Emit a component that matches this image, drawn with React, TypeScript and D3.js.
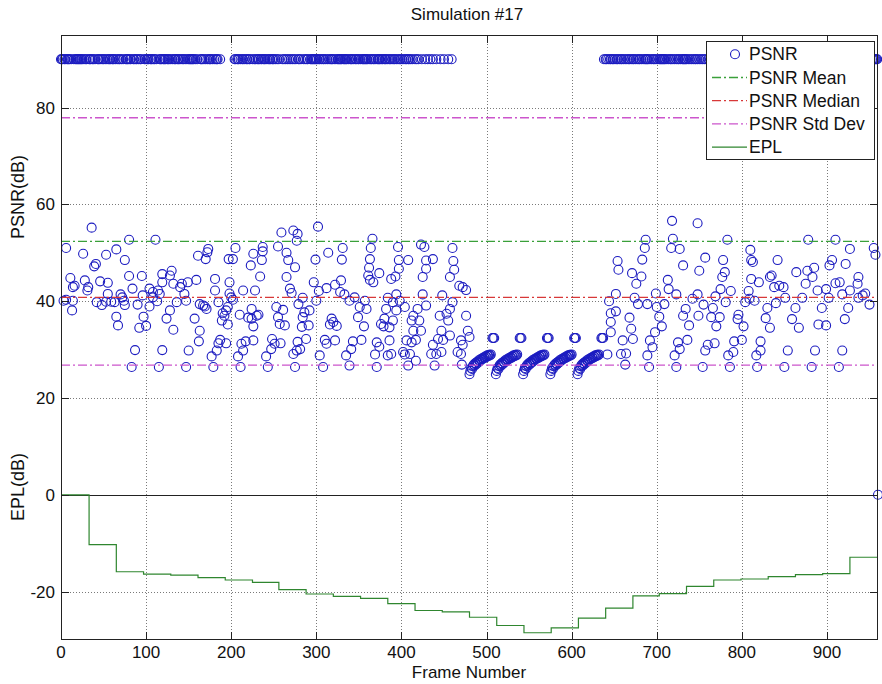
import React from 'react';
import * as d3 from 'd3';

// Frame axis and dB axis
const frameDomain = [0, 960];
const dbDomain = [-30, 95];
const frameTicks = [0, 100, 200, 300, 400, 500, 600, 700, 800, 900];
const dbTicks = [-20, 0, 20, 40, 60, 80];

// Summary statistics of the PSNR series
const psnrMean = 52.35;
const psnrMedian = 40.8;
const psnrStd = 25.55;

// Error-propagation loss, piecewise constant per GOP
const eplStepFrames = [0, 33, 65, 97, 129, 161, 193, 225, 256, 288, 320, 352, 384, 416, 448, 480, 512, 544, 576, 608, 640, 672, 703, 735, 767, 799, 831, 863, 895, 927];
const eplValues = [0, -10.3, -15.9, -16.4, -16.6, -17.1, -17.6, -18.1, -19.6, -20.5, -21.0, -21.4, -22.5, -23.9, -24.2, -25.3, -27.0, -28.5, -27.5, -25.5, -23.4, -20.9, -20.4, -18.9, -17.6, -17.4, -16.9, -16.5, -16.3, -12.9];
const lastFrame = 960;

// Frames whose PSNR is unbounded (identical frames), shown clipped at 90 dB
const saturatedPsnr = 90;
const saturatedFrames = [
  0, 1, 2, 4, 5, 7, 8, 9, 10, 12, 15, 17, 18, 19, 20, 21, 22, 23, 24, 25, 27, 29, 30, 33, 34, 35, 37, 38, 40, 43, 44, 45,
  47, 49, 50, 52, 54, 56, 57, 58, 60, 61, 62, 64, 66, 68, 69, 71, 73, 76, 77, 78, 79, 81, 82, 85, 86, 88, 89, 91, 93, 94,
  98, 99, 101, 102, 103, 105, 106, 107, 109, 110, 112, 116, 117, 118, 120, 121, 122, 123, 125, 126, 127, 129, 131, 133,
  134, 135, 137, 138, 139, 141, 143, 144, 146, 148, 150, 151, 152, 153, 154, 155, 156, 158, 160, 164, 165, 166, 168, 170,
  172, 174, 175, 176, 178, 180, 182, 183, 184, 187,
  204, 205, 207, 208, 209, 211, 213, 214, 216, 218, 219, 221, 222, 225, 227, 229, 231, 232, 233, 235, 236, 238, 239, 240,
  242, 244, 245, 246, 248, 249, 250, 252, 254, 256, 260, 262, 264, 266, 268, 270, 272, 274, 276, 279, 280, 282, 285, 287,
  289, 290, 293, 294, 295, 296, 297, 298, 299, 300, 301, 303, 304, 306, 308, 309, 311, 313, 315, 317, 318, 319, 321, 323,
  325, 326, 327, 328, 329, 330, 332, 333, 334, 335, 336, 338, 340, 341, 342, 344, 346, 347, 349, 350, 352, 354, 355, 356,
  357, 358, 359, 360, 362, 364, 365, 367, 368, 370, 372, 373, 374, 375, 377, 378, 380, 381, 382, 384, 386, 387, 389, 391,
  392, 394, 396, 398, 399, 401, 403, 405, 406, 408, 409, 411, 413, 416, 418, 420, 424, 428, 431, 434, 437, 441, 446, 450,
  455, 459,
  638, 640, 641, 643, 645, 646, 648, 649, 651, 653, 654, 656, 658, 659, 661, 663, 665, 667, 668, 670, 672, 673, 675, 677,
  679, 680, 682, 684, 686, 687, 688, 689, 690, 692, 694, 696, 697, 699, 701, 703, 704, 705, 706, 707, 708, 709, 710, 712,
  714, 716, 717, 719, 721, 723, 725, 726, 728, 730, 731, 732, 733, 734, 735, 737, 739, 741, 743, 745, 746, 748, 750, 752,
  754, 756, 758, 761, 763, 766, 771, 773, 777, 780, 785, 788, 791, 796, 799, 803, 806, 811, 814, 818, 821, 826, 829, 833,
  836, 841, 844, 848, 851, 856, 859, 863, 866, 871, 874, 878, 881, 886, 889, 893, 896, 901, 904, 908, 911, 916, 919, 923,
  926, 931, 934, 938, 941, 945, 949, 951, 953, 954, 955, 956, 957, 958, 959
];

// Low-quality GOPs in the middle of the sequence: ramp start frames and per-frame PSNR along the ramp
const gopRampStarts = [480, 511, 543, 575, 607];
const gopRampPsnr = [24.9, 25.6, 26.2, 26.0, 26.6, 26.9, 26.7, 27.2, 27.0, 27.5, 27.3, 27.8, 27.6, 28.0, 27.9, 28.2, 28.1, 28.4, 28.3, 28.6, 28.5, 28.8, 28.7, 28.9, 28.8, 29.0];
const gopKeyFrames = [507, 508, 509, 539, 540, 541, 571, 572, 573, 603, 604, 605, 635, 636, 637];
const gopKeyPsnr = 32.4;

// Remaining per-frame PSNR samples [frame, dB]
const psnrScatter = [
  [36, 55.2], [6, 51.0], [26, 49.8], [41, 47.7], [39, 47.2], [53, 49.6], [65, 50.7], [75, 48.5], [80, 52.7], [111, 52.7],
  [11, 44.8], [16, 43.2], [14, 42.9], [28, 44.3], [32, 42.9], [31, 42.2], [46, 44.1], [55, 43.8], [3, 40.1], [6, 40.3],
  [14, 40.1], [13, 38.1], [42, 39.8], [48, 39.2], [53, 39.9], [59, 39.9], [63, 39.8], [55, 41.5], [70, 41.4], [72, 40.8],
  [74, 40.1], [75, 39.2], [65, 36.8], [67, 35.0], [80, 45.2], [84, 42.6], [95, 45.2], [96, 41.2], [92, 34.5], [97, 36.8],
  [100, 34.9], [87, 29.9], [83, 26.4], [90, 39.3], [104, 38.9], [104, 42.6], [108, 40.8], [108, 41.9], [114, 42.2], [119, 45.6],
  [116, 41.5], [113, 40.0], [119, 43.9], [130, 46.3], [128, 45.3], [132, 43.6], [136, 39.8], [124, 36.4], [128, 38.1], [132, 34.1],
  [119, 29.9], [115, 26.4], [140, 42.9], [142, 43.6], [145, 41.5], [147, 40.1], [149, 43.9], [157, 36.4], [159, 44.4], [161, 49.4],
  [170, 48.7], [172, 50.1], [173, 50.8], [163, 33.9], [162, 31.7], [147, 26.4], [150, 29.8], [163, 39.4], [167, 39.1], [169, 38.9],
  [171, 38.4], [179, 26.4], [177, 28.6], [181, 44.6], [181, 42.2], [185, 39.8], [187, 32.0], [183, 29.8], [185, 31.3], [190, 37.5],
  [189, 36.0], [194, 38.1], [192, 37.0], [198, 43.9], [198, 41.6], [200, 40.8], [196, 38.8], [202, 40.3], [196, 35.2], [194, 31.3],
  [205, 51.0], [197, 48.7], [202, 48.7], [211, 26.4], [208, 28.6], [214, 29.8], [212, 31.2], [217, 31.7], [210, 37.2], [214, 42.2],
  [223, 47.4], [226, 49.8], [228, 42.2], [224, 38.4], [224, 36.4], [220, 36.6], [226, 34.8], [230, 37.0], [232, 37.2], [234, 45.1],
  [236, 48.5], [237, 50.3], [237, 51.2], [226, 31.9], [241, 28.6], [243, 26.4], [247, 30.1], [251, 31.2], [248, 32.2], [258, 31.3],
  [253, 38.8], [255, 36.7], [257, 35.3], [261, 38.2], [263, 35.0], [259, 54.2], [255, 51.3], [265, 50.0], [267, 48.5], [265, 45.0],
  [269, 42.6], [271, 41.7], [273, 54.6], [275, 47.0], [277, 52.5], [278, 53.9], [273, 29.1], [275, 26.4], [277, 29.8], [278, 31.6],
  [302, 55.4], [314, 50.0], [299, 48.6], [331, 51.0], [330, 48.6], [297, 43.9], [303, 42.1], [312, 42.7], [322, 43.4], [329, 44.3],
  [328, 41.9], [333, 41.4], [284, 40.7], [300, 40.1], [292, 38.1], [286, 37.7], [284, 36.7], [283, 34.7], [291, 35.0], [318, 36.4],
  [320, 35.7], [316, 35.2], [324, 34.9], [345, 40.8], [339, 40.1], [351, 38.8], [349, 36.7], [356, 34.8], [359, 38.4], [357, 40.1],
  [366, 52.9], [364, 51.0], [363, 48.7], [362, 46.9], [361, 45.3], [363, 44.4], [367, 43.9], [374, 45.8], [388, 44.6], [393, 45.1],
  [397, 48.5], [397, 46.7], [396, 51.2], [408, 48.5], [394, 41.4], [384, 40.7], [390, 39.8], [382, 38.4], [380, 36.4], [379, 34.8],
  [390, 36.0], [394, 38.1], [423, 51.7], [427, 51.2], [429, 48.4], [437, 48.7], [429, 46.7], [425, 45.0], [425, 41.4], [429, 39.1],
  [419, 38.4], [414, 37.0], [421, 36.0], [423, 33.9], [414, 33.9], [460, 51.0], [461, 48.3], [462, 46.5], [457, 45.0], [468, 43.2],
  [472, 42.9], [476, 42.3], [448, 41.2], [460, 39.8], [457, 38.4], [453, 37.4], [445, 37.0], [455, 36.0], [476, 37.0], [478, 33.9],
  [447, 33.9], [443, 32.2], [449, 32.0], [457, 32.9], [480, 32.6], [470, 31.9], [472, 31.0], [466, 29.5], [470, 29.1], [471, 26.9],
  [439, 26.7], [435, 29.1], [441, 29.1], [447, 29.5], [437, 31.0], [417, 32.0], [412, 31.5], [406, 31.9], [402, 29.5], [404, 29.0],
  [410, 29.1], [417, 27.7], [408, 26.7], [386, 31.9], [388, 29.1], [384, 28.8], [371, 31.5], [374, 30.6], [369, 29.0], [371, 26.4],
  [353, 32.0], [343, 31.7], [341, 30.1], [335, 28.8], [339, 26.7], [310, 32.0], [322, 31.9], [312, 31.2], [304, 28.8], [308, 26.4],
  [288, 32.2], [281, 30.1], [376, 35.3], [386, 34.6], [404, 38.8], [398, 40.1], [412, 36.0], [279, 39.4],
  [687, 52.7], [686, 51.0], [683, 48.6], [654, 48.3], [655, 46.5], [671, 45.8], [682, 45.1], [676, 43.6], [719, 52.9], [717, 51.0],
  [727, 50.8], [718, 56.6], [748, 56.1], [731, 47.4], [750, 46.3], [757, 49.0], [778, 48.5], [783, 52.7], [780, 46.0], [777, 45.0],
  [775, 42.5], [787, 42.1], [810, 50.6], [811, 48.5], [813, 48.1], [811, 44.6], [820, 43.9], [842, 48.5], [833, 45.0], [835, 45.3],
  [844, 43.2], [849, 42.9], [838, 42.9], [864, 46.0], [877, 46.3], [885, 46.9], [878, 52.7], [875, 43.6], [883, 45.0], [910, 52.7],
  [927, 50.8], [906, 48.5], [903, 47.4], [922, 47.7], [910, 43.7], [915, 43.9], [937, 45.0], [936, 43.6], [955, 51.0], [957, 49.6],
  [644, 40.0], [652, 41.5], [646, 37.5], [646, 35.7], [646, 33.6], [652, 37.9], [674, 40.7], [678, 39.4], [668, 36.6], [670, 34.3],
  [672, 32.2], [660, 31.9], [664, 29.2], [658, 29.1], [663, 26.9], [642, 29.0], [689, 39.4], [699, 41.6], [700, 38.8], [709, 39.4],
  [713, 44.4], [714, 42.5], [723, 41.4], [703, 36.8], [706, 34.8], [692, 31.9], [695, 30.5], [689, 28.8], [691, 26.4], [698, 33.6],
  [723, 26.4], [721, 28.8], [727, 30.1], [725, 31.5], [736, 32.0], [731, 37.0], [734, 38.4], [738, 35.0], [742, 40.5], [748, 41.4],
  [749, 37.0], [755, 39.3], [754, 26.4], [760, 31.0], [757, 29.8], [768, 31.3], [766, 38.6], [764, 36.7], [770, 34.8], [774, 36.7],
  [769, 41.0], [781, 39.8], [786, 26.4], [784, 28.8], [790, 29.5], [791, 31.7], [800, 32.0], [795, 36.3], [802, 34.8], [796, 37.2],
  [804, 39.8], [809, 40.5], [815, 40.1], [808, 42.1], [818, 26.4], [817, 28.8], [822, 29.8], [822, 31.7], [830, 38.6], [828, 36.5],
  [833, 34.5], [840, 39.6], [851, 40.7], [850, 26.4], [854, 29.8], [859, 36.3], [863, 38.6], [867, 34.5], [871, 40.7], [882, 26.4],
  [886, 29.8], [890, 35.2], [899, 35.0], [894, 38.6], [902, 40.7], [889, 42.2], [899, 42.5], [914, 26.4], [918, 29.8], [921, 36.3],
  [925, 38.6], [918, 41.4], [927, 42.2], [937, 40.7], [942, 41.2], [945, 41.6], [950, 39.3],
  [960, 0]
];

const legendLabels = ['PSNR', 'PSNR Mean', 'PSNR Median', 'PSNR Std Dev', 'EPL'];

const COLORS = {
  psnr: '#1c1cc0',
  mean: '#3aa03a',
  median: '#d83838',
  std: '#cc55cc',
  epl: '#2f862f',
  grid: '#7a7a7a',
  axis: '#222222',
};

const FONT = "'Liberation Sans', Arial, Helvetica, sans-serif";

export default function App() {
  const x = d3.scaleLinear().domain(frameDomain).range([61, 878]);
  const y = d3.scaleLinear().domain(dbDomain).range([640, 35]);
  const [x0, x1] = x.range();
  const [yBottom, yTop] = y.range();
  const crisp = (v: number) => Math.round(v) + 0.5;

  // assemble every PSNR sample
  const points: [number, number][] = [];
  saturatedFrames.forEach((f) => points.push([f, saturatedPsnr]));
  psnrScatter.forEach(([f, v]) => points.push([f, v]));
  gopRampStarts.forEach((s) => gopRampPsnr.forEach((v, i) => points.push([s + i, v])));
  gopKeyFrames.forEach((f) => points.push([f, gopKeyPsnr]));

  const eplPoints: [number, number][] = eplStepFrames.map((f, i) => [f, eplValues[i]]);
  eplPoints.push([lastFrame, eplValues[eplValues.length - 1]]);
  const eplLine = d3
    .line<[number, number]>()
    .x((d) => x(d[0]))
    .y((d) => y(d[1]))
    .curve(d3.curveStepAfter);

  const statLines = [
    { value: psnrMean, color: COLORS.mean },
    { value: psnrMedian, color: COLORS.median },
    { value: psnrMean + psnrStd, color: COLORS.std },
    { value: psnrMean - psnrStd, color: COLORS.std },
  ];
  const dashDot = '9,3,2,3';
  const tickLen = 8;

  // legend geometry
  const lg = { x: 706, y: 41, w: 168, h: 118, rowH: 23.2, first: 54.3 };
  const legendStyles = [
    { kind: 'marker', color: COLORS.psnr },
    { kind: 'dashdot', color: COLORS.mean },
    { kind: 'dashdot', color: COLORS.median },
    { kind: 'dashdot', color: COLORS.std },
    { kind: 'solid', color: COLORS.epl },
  ];

  return (
    <svg
      width={882}
      height={684}
      style={{ position: 'absolute', left: 0, top: 0, background: '#fff' }}
      fontFamily={FONT}
    >
      <rect x={0} y={0} width={882} height={684} fill="#fff" />

      {/* grid */}
      <g stroke={COLORS.grid} strokeWidth={1} strokeDasharray="1,2">
        {frameTicks
          .filter((t) => t > frameDomain[0])
          .map((t) => (
            <line key={'gx' + t} x1={crisp(x(t))} x2={crisp(x(t))} y1={yTop} y2={yBottom} />
          ))}
        {dbTicks
          .filter((t) => t !== 0)
          .map((t) => (
            <line key={'gy' + t} x1={x0} x2={x1} y1={crisp(y(t))} y2={crisp(y(t))} />
          ))}
      </g>

      {/* zero reference */}
      <line x1={x0} x2={x1} y1={crisp(y(0))} y2={crisp(y(0))} stroke={COLORS.axis} strokeWidth={1.1} />

      {/* PSNR samples */}
      <g fill="none" stroke={COLORS.psnr} strokeWidth={1.1}>
        {points.map(([f, v], i) => (
          <circle key={i} cx={x(f)} cy={y(v)} r={4.5} />
        ))}
      </g>

      {/* statistics */}
      {statLines.map((s, i) => (
        <line
          key={'s' + i}
          x1={x0}
          x2={x1}
          y1={y(s.value)}
          y2={y(s.value)}
          stroke={s.color}
          strokeWidth={1.3}
          strokeDasharray={dashDot}
        />
      ))}

      {/* EPL */}
      <path d={eplLine(eplPoints) || ''} fill="none" stroke={COLORS.epl} strokeWidth={1.2} />

      {/* axes box and ticks */}
      <rect x={x0 + 0.5} y={yTop + 0.5} width={x1 - x0 - 1} height={yBottom - yTop - 1} fill="none" stroke={COLORS.axis} strokeWidth={1} />
      <g stroke={COLORS.axis} strokeWidth={1}>
        {frameTicks.map((t) => (
          <g key={'tx' + t}>
            <line x1={crisp(x(t))} x2={crisp(x(t))} y1={yBottom} y2={yBottom - tickLen} />
            <line x1={crisp(x(t))} x2={crisp(x(t))} y1={yTop} y2={yTop + tickLen} />
          </g>
        ))}
        {dbTicks.map((t) => (
          <g key={'ty' + t}>
            <line x1={x0} x2={x0 + tickLen} y1={crisp(y(t))} y2={crisp(y(t))} />
            <line x1={x1} x2={x1 - tickLen} y1={crisp(y(t))} y2={crisp(y(t))} />
          </g>
        ))}
      </g>

      {/* tick labels */}
      <g fontSize={17} fill="#111">
        {frameTicks.map((t) => (
          <text key={'lx' + t} x={x(t)} y={658} textAnchor="middle">
            {t}
          </text>
        ))}
        {dbTicks.map((t) => (
          <text key={'ly' + t} x={55} y={y(t)} dy="0.35em" textAnchor="end">
            {t}
          </text>
        ))}
      </g>

      {/* titles */}
      <text x={467} y={20} textAnchor="middle" fontSize={17} fill="#111">
        Simulation #17
      </text>
      <text x={469} y={678} textAnchor="middle" fontSize={17} fill="#111">
        Frame Number
      </text>
      <text transform="translate(17.5,197) rotate(-90)" textAnchor="middle" dy="0.35em" fontSize={18} fill="#111">
        PSNR(dB)
      </text>
      <text transform="translate(17.5,487) rotate(-90)" textAnchor="middle" dy="0.35em" fontSize={18} fill="#111">
        EPL(dB)
      </text>

      {/* legend */}
      <g>
        <rect x={lg.x + 0.5} y={lg.y + 0.5} width={lg.w} height={lg.h} fill="#fff" stroke={COLORS.axis} strokeWidth={1} />
        {legendLabels.map((label, i) => {
          const cy = lg.first + i * lg.rowH;
          const st = legendStyles[i];
          return (
            <g key={label}>
              {st.kind === 'marker' ? (
                <circle cx={735} cy={cy} r={4.5} fill="none" stroke={st.color} strokeWidth={1.1} />
              ) : (
                <line
                  x1={712}
                  x2={747}
                  y1={cy}
                  y2={cy}
                  stroke={st.color}
                  strokeWidth={st.kind === 'solid' ? 1.2 : 1.3}
                  strokeDasharray={st.kind === 'dashdot' ? dashDot : undefined}
                />
              )}
              <text x={749} y={cy} dy="0.35em" fontSize={17.5} fill="#111">
                {label}
              </text>
            </g>
          );
        })}
      </g>
    </svg>
  );
}
